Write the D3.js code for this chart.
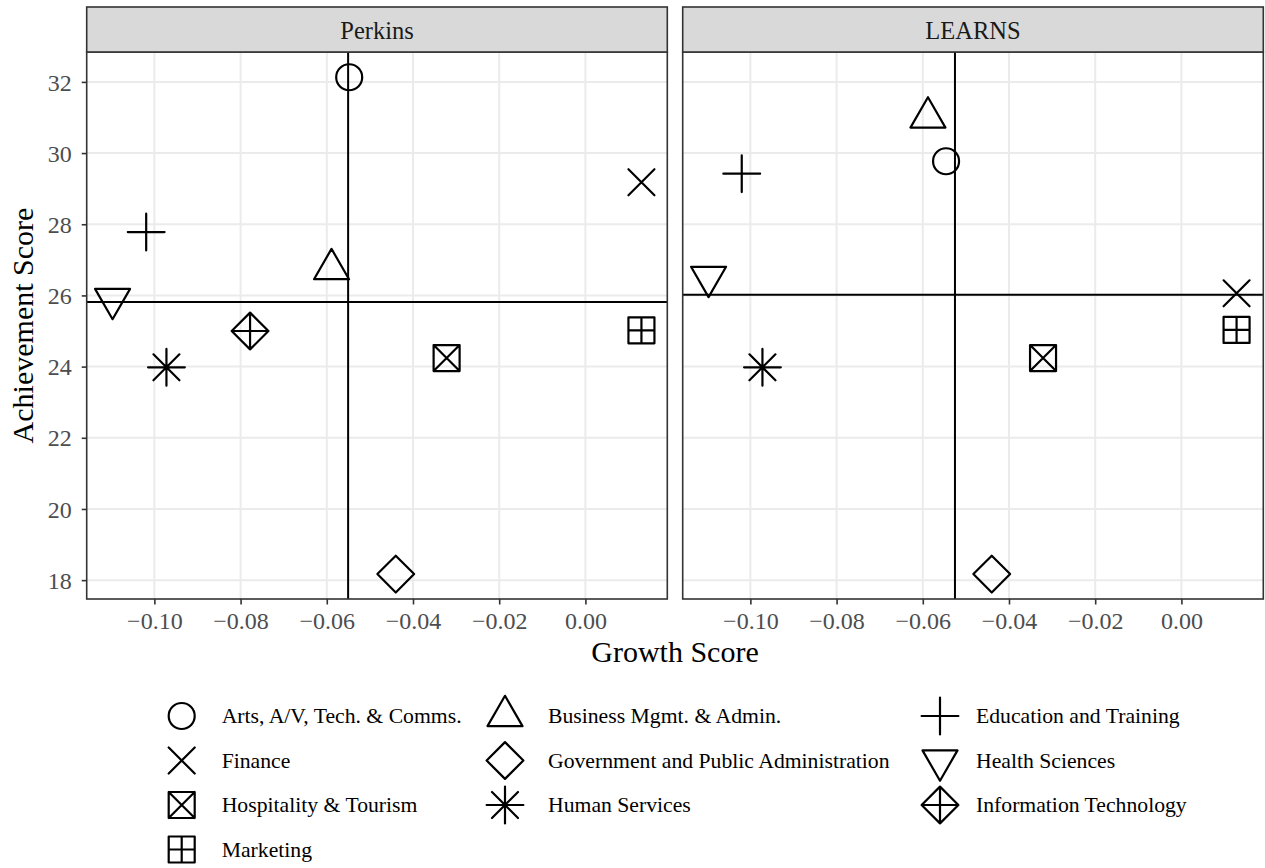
<!DOCTYPE html>
<html>
<head>
<meta charset="utf-8">
<script src="https://cdn.jsdelivr.net/npm/d3@7"></script>
<style>
  body { margin: 0; background: #fff; }
  text { font-family: "Liberation Serif", "Times New Roman", serif; }
</style>
</head>
<body>
<svg id="chart" width="1265" height="868"></svg>
<script>
// career clusters, in legend order
var CLUSTERS = ["Arts, A/V, Tech. & Comms.", "Business Mgmt. & Admin.", "Education and Training",
                "Finance", "Government and Public Administration", "Health Sciences",
                "Hospitality & Tourism", "Human Services", "Information Technology", "Marketing"];
var SHAPES = ["circle", "triangle", "plus", "cross", "diamond", "triangleDown",
              "squareCross", "asterisk", "diamondPlus", "squarePlus"];

var PANELS = ["Perkins", "LEARNS"];
var PERKINS_GROWTH = [-0.0548, -0.0589, -0.1019, 0.0130, -0.0440, -0.1097, -0.0322, -0.0972, -0.0778, 0.0130];
var PERKINS_ACH    = [32.13, 26.74, 27.78, 29.18, 18.17, 25.90, 24.24, 23.98, 25.00, 25.02];
var LEARNS_GROWTH  = [-0.0546, -0.0588, -0.1020, 0.0128, -0.0440, -0.1097, -0.0321, -0.0972, null, 0.0128];
var LEARNS_ACH     = [29.77, 31.00, 29.42, 26.06, 18.17, 26.52, 24.24, 23.98, null, 25.03];

var X_TICKS = [-0.10, -0.08, -0.06, -0.04, -0.02, 0.00];
var Y_TICKS = [18, 20, 22, 24, 26, 28, 30, 32];

var R = 13;        // base symbol radius
var SW = 2.2;      // symbol stroke

function pts(growth, ach) {
  var out = [];
  growth.forEach(function(g, i) {
    if (g == null || ach[i] == null) return;
    out.push({ name: CLUSTERS[i], shape: SHAPES[i], x: g, y: ach[i] });
  });
  return out;
}
var DATA = [pts(PERKINS_GROWTH, PERKINS_ACH), pts(LEARNS_GROWTH, LEARNS_ACH)];

// path for an R-style pch symbol centred at 0,0
function symbolPath(shape) {
  var s2 = Math.SQRT2 * R;
  var p = d3.path();
  function line(x1, y1, x2, y2) { p.moveTo(x1, y1); p.lineTo(x2, y2); }
  function sq(h) { p.moveTo(-h, -h); p.lineTo(h, -h); p.lineTo(h, h); p.lineTo(-h, h); p.closePath(); }
  function dia(h) { p.moveTo(0, -h); p.lineTo(h, 0); p.lineTo(0, h); p.lineTo(-h, 0); p.closePath(); }
  if (shape == "circle") { p.arc(0, 0, R, 0, 2 * Math.PI); }
  if (shape == "triangle") {
    p.moveTo(0, -1.555 * R); p.lineTo(1.3468 * R, 0.7776 * R); p.lineTo(-1.3468 * R, 0.7776 * R); p.closePath();
  }
  if (shape == "triangleDown") {
    p.moveTo(0, 1.555 * R); p.lineTo(1.3468 * R, -0.7776 * R); p.lineTo(-1.3468 * R, -0.7776 * R); p.closePath();
  }
  if (shape == "plus" || shape == "asterisk") { line(-s2, 0, s2, 0); line(0, -s2, 0, s2); }
  if (shape == "cross" || shape == "asterisk") { line(-R, -R, R, R); line(-R, R, R, -R); }
  if (shape == "diamond") dia(s2);
  if (shape == "diamondPlus") { dia(s2); line(-s2, 0, s2, 0); line(0, -s2, 0, s2); }
  if (shape == "squareCross") { sq(R); line(-R, -R, R, R); line(-R, R, R, -R); }
  if (shape == "squarePlus") { sq(R); line(-R, 0, R, 0); line(0, -R, 0, R); }
  return p.toString();
}

var svg = d3.select("#chart");
svg.append("rect").attr("width", 1265).attr("height", 868).attr("fill", "#fff");

var panelTop = 52, panelBottom = 599, stripTop = 7;
var panelLefts = [86.7, 682.7], panelW = 580.6;

var y = d3.scaleLinear().domain([17.47, 32.84]).range([panelBottom, panelTop]);

PANELS.forEach(function(name, k) {
  var x0 = panelLefts[k];
  var x = d3.scaleLinear().domain([-0.1157, 0.0190]).range([x0, x0 + panelW]);
  var g = svg.append("g");

  // grid
  g.selectAll("line.gx").data(X_TICKS).enter().append("line")
    .attr("x1", function(d) { return x(d); }).attr("x2", function(d) { return x(d); })
    .attr("y1", panelTop).attr("y2", panelBottom)
    .attr("stroke", "#EBEBEB").attr("stroke-width", 2);
  g.selectAll("line.gy").data(Y_TICKS).enter().append("line")
    .attr("x1", x0).attr("x2", x0 + panelW)
    .attr("y1", function(d) { return y(d); }).attr("y2", function(d) { return y(d); })
    .attr("stroke", "#EBEBEB").attr("stroke-width", 2);

  var pts = DATA[k];
  var clipId = "clip" + k;
  svg.append("clipPath").attr("id", clipId).append("rect")
    .attr("x", x0).attr("y", panelTop).attr("width", panelW).attr("height", panelBottom - panelTop);
  var inner = g.append("g").attr("clip-path", "url(#" + clipId + ")");

  // mean lines
  var mx = d3.mean(pts, function(d) { return d.x; });
  var my = d3.mean(pts, function(d) { return d.y; });
  inner.append("line").attr("x1", x(mx)).attr("x2", x(mx)).attr("y1", panelTop).attr("y2", panelBottom)
    .attr("stroke", "#000").attr("stroke-width", 2);
  inner.append("line").attr("x1", x0).attr("x2", x0 + panelW).attr("y1", y(my)).attr("y2", y(my))
    .attr("stroke", "#000").attr("stroke-width", 2);

  inner.selectAll("path.pt").data(pts).enter().append("path")
    .attr("class", "pt")
    .attr("transform", function(d) { return "translate(" + x(d.x) + "," + y(d.y) + ")"; })
    .attr("d", function(d) { return symbolPath(d.shape); })
    .attr("fill", "none").attr("stroke", "#000").attr("stroke-width", SW)
    .attr("stroke-linecap", "round").attr("stroke-linejoin", "round");

  // border + strip
  g.append("rect").attr("x", x0).attr("y", panelTop).attr("width", panelW).attr("height", panelBottom - panelTop)
    .attr("fill", "none").attr("stroke", "#333333").attr("stroke-width", 1.6);
  g.append("rect").attr("x", x0).attr("y", stripTop).attr("width", panelW).attr("height", panelTop - stripTop)
    .attr("fill", "#D9D9D9").attr("stroke", "#333333").attr("stroke-width", 1.6);
  g.append("text").attr("x", x0 + panelW / 2).attr("y", 38.5).attr("text-anchor", "middle")
    .attr("font-size", 24.5).attr("fill", "#1A1A1A").text(name);

  // x axis
  var xa = svg.append("g").attr("transform", "translate(0," + panelBottom + ")")
    .call(d3.axisBottom(x).tickValues(X_TICKS).tickFormat(d3.format(".2f")).tickSize(5.5).tickPadding(7.5));
  xa.select(".domain").remove();
  xa.selectAll("line").attr("stroke", "#333333").attr("stroke-width", 1.6);
  xa.selectAll("text").attr("font-size", 24).attr("fill", "#4D4D4D").attr("font-family", "Liberation Serif");

  if (k == 0) {
    var ya = svg.append("g").attr("transform", "translate(" + x0 + ",0)")
      .call(d3.axisLeft(y).tickValues(Y_TICKS).tickSize(5).tickPadding(10));
    ya.select(".domain").remove();
    ya.selectAll("line").attr("stroke", "#333333").attr("stroke-width", 1.6);
    ya.selectAll("text").attr("font-size", 24).attr("fill", "#4D4D4D").attr("font-family", "Liberation Serif")
      .attr("dy", "0.34em");
  }
});

// axis titles
svg.append("text").attr("x", 675).attr("y", 661.5).attr("text-anchor", "middle")
  .attr("font-size", 30).text("Growth Score");
svg.append("text").attr("transform", "translate(33,325.5) rotate(-90)").attr("text-anchor", "middle")
  .attr("font-size", 30).text("Achievement Score");

// legend, 3 columns filled by row
var legSymX = [181.7, 505, 940];
var legTextX = [221.7, 548, 976];
var legRows = [716, 760.5, 805, 849.5];
var leg = svg.append("g").selectAll("g").data(CLUSTERS).enter().append("g")
  .attr("transform", function(d, i) { return "translate(0," + legRows[Math.floor(i / 3)] + ")"; });
leg.append("path")
  .attr("transform", function(d, i) { return "translate(" + legSymX[i % 3] + ",0)"; })
  .attr("d", function(d, i) { return symbolPath(SHAPES[i]); })
  .attr("fill", "none").attr("stroke", "#000").attr("stroke-width", SW)
  .attr("stroke-linecap", "round").attr("stroke-linejoin", "round");
leg.append("text").attr("x", function(d, i) { return legTextX[i % 3]; })
  .attr("dy", "0.33em").attr("font-size", 21.7)
  .text(function(d) { return d; });
</script>
</body>
</html>
